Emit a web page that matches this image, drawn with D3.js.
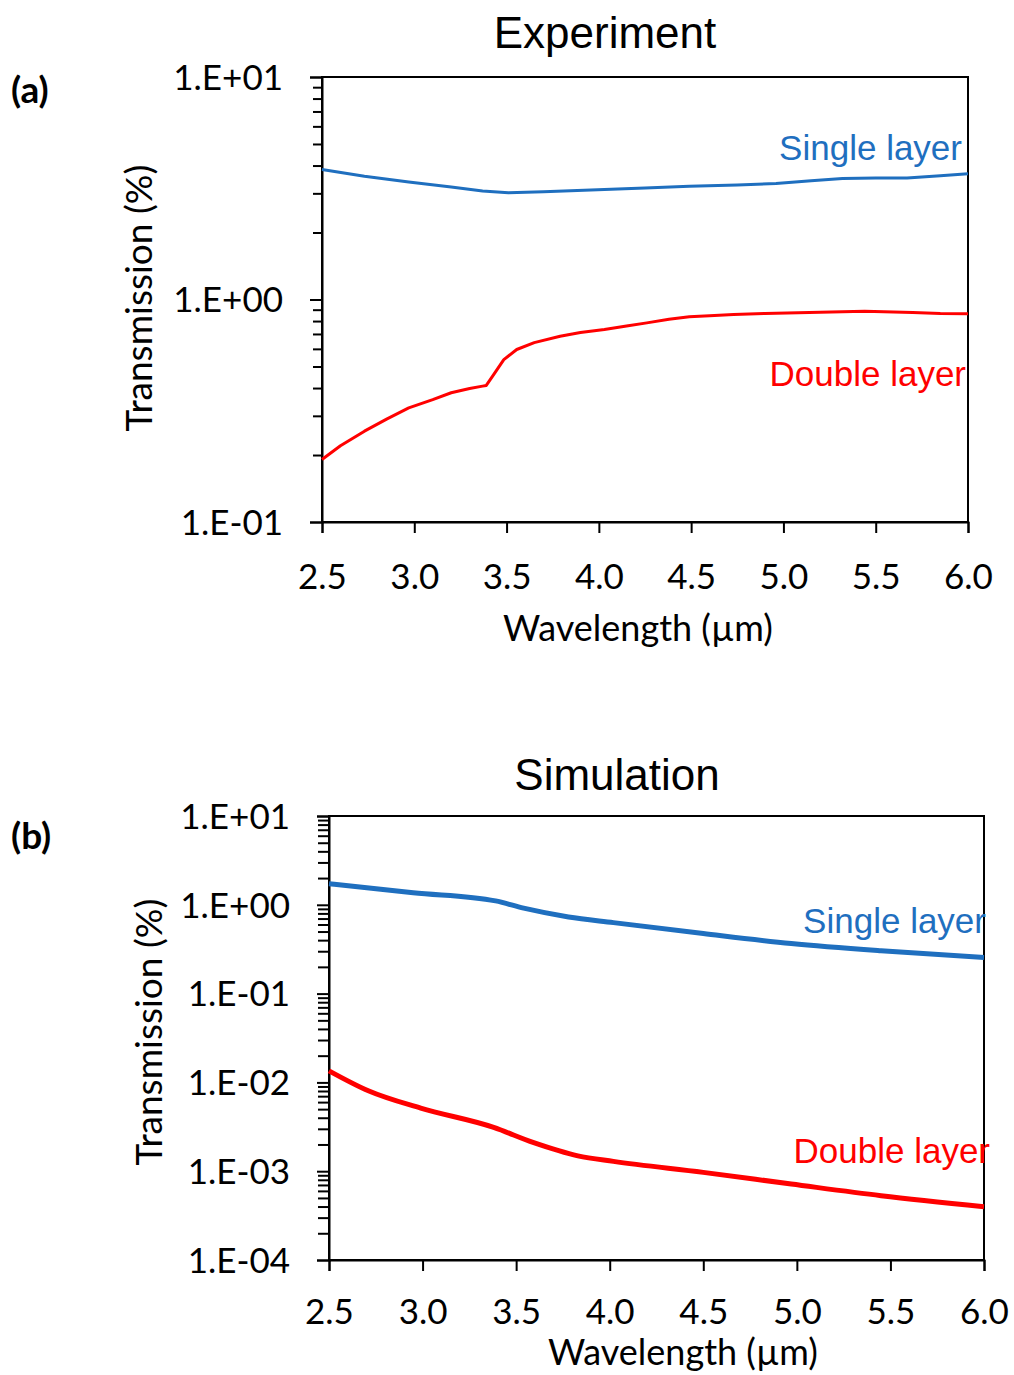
<!DOCTYPE html>
<html>
<head>
<meta charset="utf-8">
<script src="https://cdn.jsdelivr.net/npm/d3@7"></script>
<style>
  body { margin: 0; background: #fff; }
  text { fill: #000; }
</style>
</head>
<body>
<div id="chart"></div>
<script>
// Experiment (a)
const expSingleX = [2.5, 2.73, 2.97, 3.2, 3.37, 3.51, 3.7, 4.03, 4.25, 4.49, 4.75, 4.96, 5.15, 5.32, 5.5, 5.67, 5.85, 6.0];
const expSingleY = [3.84, 3.58, 3.37, 3.2, 3.07, 3.02, 3.05, 3.12, 3.17, 3.23, 3.27, 3.32, 3.42, 3.50, 3.52, 3.52, 3.6, 3.67];
const expDoubleX = [2.5, 2.6, 2.73, 2.85, 2.97, 3.1, 3.2, 3.3, 3.37, 3.39, 3.43, 3.485, 3.555, 3.65, 3.79, 3.9, 4.03, 4.15, 4.26, 4.38, 4.49, 4.6, 4.73, 4.9, 5.2, 5.44, 5.7, 5.85, 6.0];
const expDoubleY = [0.191, 0.22, 0.256, 0.29, 0.326, 0.355, 0.381, 0.398, 0.408, 0.411, 0.46, 0.537, 0.596, 0.64, 0.684, 0.71, 0.733, 0.76, 0.785, 0.815, 0.836, 0.845, 0.856, 0.865, 0.877, 0.886, 0.875, 0.865, 0.862];

// Simulation (b)
const simSingleX = [2.5, 2.95, 3.39, 3.54, 3.78, 4.02, 4.5, 4.97, 5.45, 6.0];
const simSingleY = [1.73, 1.37, 1.106, 0.916, 0.73, 0.63, 0.474, 0.366, 0.303, 0.255];
const simDoubleX = [2.5, 2.71, 2.99, 3.38, 3.59, 3.83, 4.02, 4.5, 4.97, 5.45, 6.0];
const simDoubleY = [0.0135, 0.00805, 0.00513, 0.00311, 0.00211, 0.00149, 0.00129, 0.00097, 0.000717, 0.00053, 0.000398];

const xTicks = [2.5, 3.0, 3.5, 4.0, 4.5, 5.0, 5.5, 6.0];
const seriesNames = ["Single layer", "Double layer"];

const blue = "#1f6fbf", red = "#ff0000";
const uiFont = "Lato, 'Open Sans', sans-serif";
const arialFont = "'Liberation Sans', Arial, sans-serif";

const svg = d3.select("#chart").append("svg")
    .attr("width", 1014)
    .attr("height", 1375)
    .style("background", "#fff");

function expLabel(v) {
  const e = Math.round(Math.log10(v));
  return "1.E" + (e < 0 ? "-" : "+") + String(Math.abs(e)).padStart(2, "0");
}

function panel(p) {
  const x = d3.scaleLinear().domain([2.5, 6.0]).range([p.left, p.right]);
  const y = d3.scaleLog().domain(p.yDomain).range([p.bottom, p.top]);

  const lo = Math.round(Math.log10(p.yDomain[0])), hi = Math.round(Math.log10(p.yDomain[1]));
  const major = d3.range(lo, hi + 1).map(e => Math.pow(10, e));
  const minor = [];
  d3.range(lo, hi).forEach(e => { for (let k = 2; k <= 9; k++) minor.push(k * Math.pow(10, e)); });

  // frame
  svg.append("rect")
    .attr("x", p.left).attr("y", p.top)
    .attr("width", p.right - p.left).attr("height", p.bottom - p.top)
    .attr("fill", "none").attr("stroke", "#000").attr("stroke-width", 2);

  // minor y ticks
  svg.append("g")
    .attr("transform", "translate(" + p.left + ",0)")
    .call(d3.axisLeft(y).tickValues(minor).tickSize(p.minorLen).tickFormat(""))
    .call(g => g.select(".domain").remove())
    .selectAll("line").attr("stroke-width", 2);

  // major y ticks with labels
  const ya = svg.append("g")
    .attr("transform", "translate(" + p.left + ",0)")
    .call(d3.axisLeft(y).tickValues(major).tickSize(12).tickPadding(27).tickFormat(expLabel));
  ya.select(".domain").attr("stroke-width", 2);
  ya.selectAll("line").attr("stroke-width", 2);
  ya.selectAll("text").style("font", "35px " + uiFont).attr("fill", "#000").attr("dy", "0.35em");

  // x axis
  const xa = svg.append("g")
    .attr("transform", "translate(0," + p.bottom + ")")
    .call(d3.axisBottom(x).tickValues(xTicks).tickSize(11).tickPadding(p.xPad).tickFormat(d3.format(".1f")));
  xa.select(".domain").attr("stroke-width", 2);
  xa.selectAll("line").attr("stroke-width", 2);
  xa.selectAll("text").style("font", "35px " + uiFont).attr("fill", "#000");

  const line = d3.line().x(d => x(d[0])).y(d => y(d[1])).curve(p.curve);
  p.series.forEach((s, i) => {
    svg.append("path")
      .datum(d3.zip(s.xs, s.ys))
      .attr("fill", "none")
      .attr("stroke", s.color)
      .attr("stroke-width", p.lineWidth)
      .attr("stroke-linejoin", "round")
      .attr("d", line);
    svg.append("text")
      .attr("x", s.lx).attr("y", s.ly)
      .attr("text-anchor", "end")
      .style("font", "35px " + arialFont)
      .style("fill", s.color)
      .text(seriesNames[i]);
  });

  // titles
  svg.append("text")
    .attr("x", p.titleX).attr("y", p.titleY)
    .attr("text-anchor", "middle")
    .style("font", "44px " + arialFont)
    .text(p.title);

  svg.append("text")
    .attr("x", p.xTitleX).attr("y", p.xTitleY)
    .attr("text-anchor", "middle")
    .style("font", "36px " + uiFont)
    .text("Wavelength (µm)");

  svg.append("text")
    .attr("transform", "translate(" + p.yTitleX + "," + p.yTitleY + ") rotate(-90)")
    .attr("text-anchor", "middle")
    .style("font", "37px " + uiFont)
    .text("Transmission (%)");

  svg.append("text")
    .attr("x", 11).attr("y", p.tagY)
    .style("font", "bold 37px " + uiFont)
    .text(p.tag);
}

panel({
  left: 322, right: 968, top: 77, bottom: 522,
  yDomain: [0.1, 10], minorLen: 9, xPad: 31, lineWidth: 3, curve: d3.curveLinear,
  title: "Experiment", titleX: 605, titleY: 48, tag: "(a)", tagY: 103,
  xTitleX: 638, xTitleY: 641, yTitleX: 152, yTitleY: 298,
  series: [
    { xs: expSingleX, ys: expSingleY, color: blue, lx: 962, ly: 160 },
    { xs: expDoubleX, ys: expDoubleY, color: red, lx: 966, ly: 386 }
  ]
});

panel({
  left: 329, right: 984, top: 816, bottom: 1260,
  yDomain: [0.0001, 10], minorLen: 11, xPad: 28, lineWidth: 5, curve: d3.curveMonotoneX,
  title: "Simulation", titleX: 617, titleY: 790, tag: "(b)", tagY: 849,
  xTitleX: 683, xTitleY: 1365, yTitleX: 162, yTitleY: 1032,
  series: [
    { xs: simSingleX, ys: simSingleY, color: blue, lx: 986, ly: 933 },
    { xs: simDoubleX, ys: simDoubleY, color: red, lx: 990, ly: 1163 }
  ]
});
</script>
</body>
</html>
